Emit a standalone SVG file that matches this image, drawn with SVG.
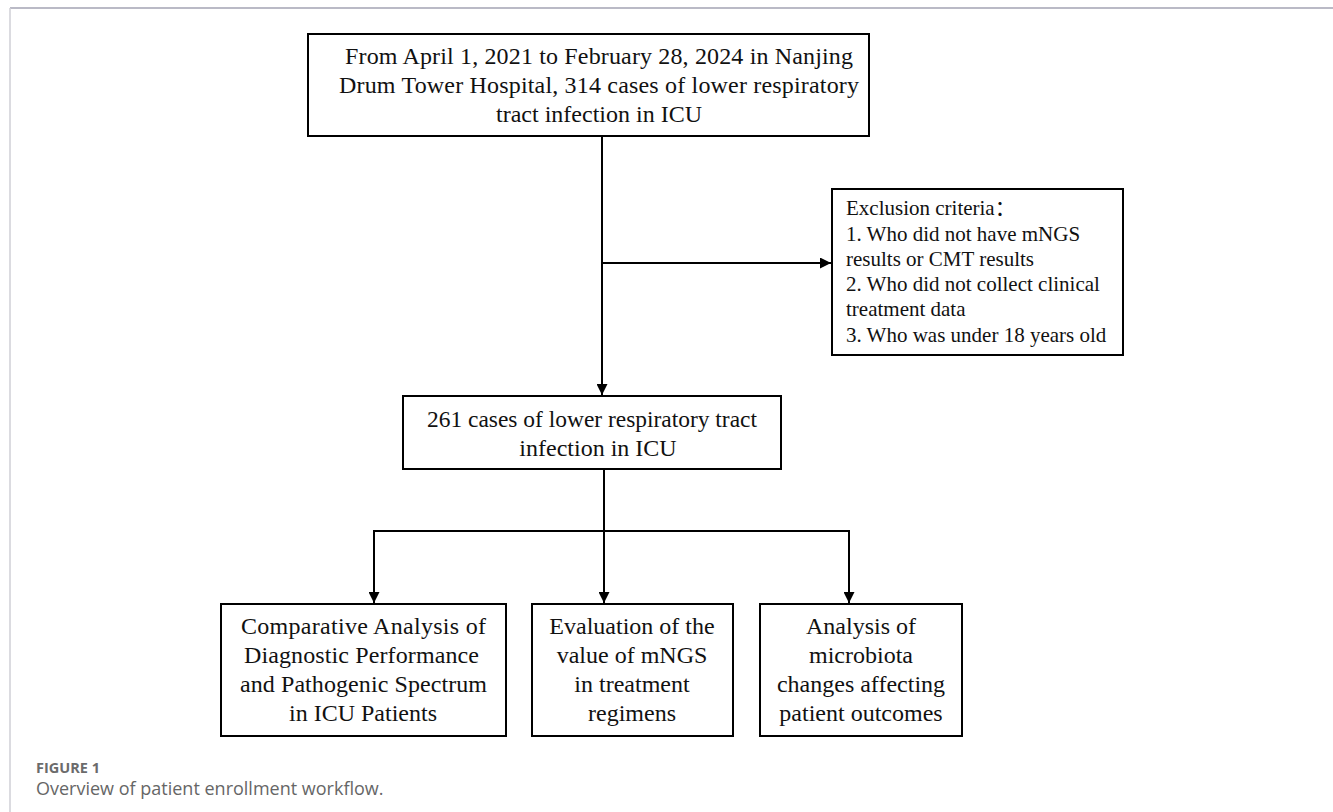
<svg xmlns="http://www.w3.org/2000/svg" width="1333" height="812" viewBox="0 0 1333 812">
<style>
.box{fill:#fff;stroke:#000;stroke-width:2}
.t{font-family:"Liberation Serif","Times New Roman",serif;font-size:24px;fill:#111}
.tc{text-anchor:middle}
.ex{font-family:"Liberation Serif","Times New Roman","Noto Sans CJK SC",serif;font-size:21px;fill:#111}
.ln{fill:none;stroke:#000;stroke-width:2}
.cap1{font-family:"Open Sans","Noto Sans",sans-serif;font-size:14.5px;font-weight:bold;fill:#6b6b6b}
.cap2{font-family:"Open Sans","Noto Sans",sans-serif;font-size:18px;fill:#666}
</style>
<defs>
<marker id="ah" viewBox="0 0 10 10" refX="10" refY="5" markerWidth="11" markerHeight="11" markerUnits="userSpaceOnUse" orient="auto">
<path d="M0,0 L10,5 L0,10 Z" fill="#000"/>
</marker>
</defs>
<rect x="0" y="0" width="1333" height="812" fill="#fff"/>
<g id="frame">
<line x1="10" y1="8" x2="1333" y2="8" stroke="#a3a3b3" stroke-width="1.5"/>
<line x1="10" y1="8" x2="10" y2="812" stroke="#cfcfd6" stroke-width="1.5"/>
</g>
<g id="connectors">
<line class="ln" x1="602" y1="137" x2="602" y2="395" marker-end="url(#ah)"/>
<line class="ln" x1="602" y1="263" x2="831" y2="263" marker-end="url(#ah)"/>
<line class="ln" x1="604" y1="470" x2="604" y2="603" marker-end="url(#ah)"/>
<line class="ln" x1="373" y1="531" x2="850" y2="531"/>
<line class="ln" x1="374" y1="530" x2="374" y2="603" marker-end="url(#ah)"/>
<line class="ln" x1="849" y1="530" x2="849" y2="603" marker-end="url(#ah)"/>
</g>
<g id="node-source">
<rect class="box" x="308" y="34" width="561" height="102"/>
<text class="t" x="345" y="64" textLength="508" lengthAdjust="spacing">From April 1, 2021 to February 28, 2024 in Nanjing</text>
<text class="t" x="339" y="93" textLength="520" lengthAdjust="spacing">Drum Tower Hospital, 314 cases of lower respiratory</text>
<text class="t tc" x="599" y="122">tract infection in ICU</text>
</g>
<g id="node-exclusion">
<rect class="box" x="832" y="189" width="291" height="166"/>
<text class="ex" x="846" y="215">Exclusion criteria：</text>
<text class="ex" x="846" y="241">1. Who did not have mNGS</text>
<text class="ex" x="846" y="266">results or CMT results</text>
<text class="ex" x="846" y="291">2. Who did not collect clinical</text>
<text class="ex" x="846" y="316">treatment data</text>
<text class="ex" x="846" y="342">3. Who was under 18 years old</text>
</g>
<g id="node-included">
<rect class="box" x="403" y="396" width="378" height="73"/>
<text class="t" x="427" y="427" textLength="330" lengthAdjust="spacingAndGlyphs">261 cases of lower respiratory tract</text>
<text class="t tc" x="598" y="456">infection in ICU</text>
</g>
<g id="node-diagnostic">
<rect class="box" x="221" y="604" width="285" height="132"/>
<text class="t" x="241" y="634" textLength="245" lengthAdjust="spacing">Comparative Analysis of</text>
<text class="t" x="244" y="663" textLength="235" lengthAdjust="spacing">Diagnostic Performance</text>
<text class="t" x="240" y="692" textLength="247" lengthAdjust="spacing">and Pathogenic Spectrum</text>
<text class="t tc" x="363" y="721">in ICU Patients</text>
</g>
<g id="node-treatment">
<rect class="box" x="532" y="604" width="201" height="132"/>
<text class="t tc" x="632" y="634">Evaluation of the</text>
<text class="t tc" x="632" y="663">value of mNGS</text>
<text class="t tc" x="632" y="692">in treatment</text>
<text class="t tc" x="632" y="721">regimens</text>
</g>
<g id="node-microbiota">
<rect class="box" x="760" y="604" width="202" height="132"/>
<text class="t tc" x="861" y="634">Analysis of</text>
<text class="t tc" x="861" y="663">microbiota</text>
<text class="t tc" x="861" y="692">changes affecting</text>
<text class="t tc" x="861" y="721">patient outcomes</text>
</g>
<g id="caption">
<text class="cap1" x="36" y="773">FIGURE 1</text>
<text class="cap2" x="36" y="795">Overview of patient enrollment workflow.</text>
</g>
</svg>
